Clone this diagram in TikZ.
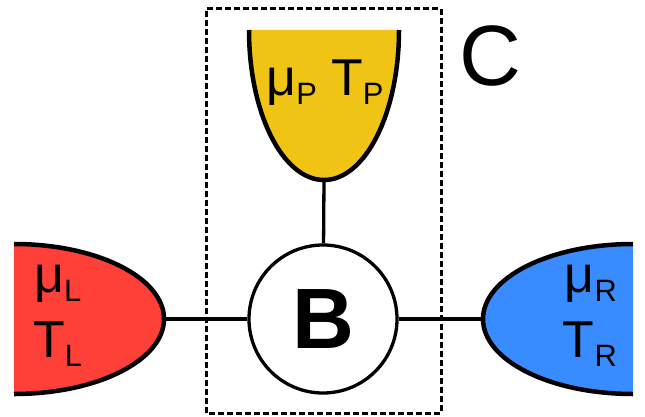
\documentclass[tikz,border=0pt]{standalone}
\usepackage{fontspec}
\setmainfont{Liberation Sans}

\definecolor{resred}{RGB}{255,64,56}
\definecolor{resyellow}{RGB}{240,196,20}
\definecolor{resblue}{RGB}{56,140,255}

\newcommand{\lowsub}[1]{\raisebox{-9bp}{\fontsize{31}{32}\selectfont #1}}

\begin{document}
\begin{tikzpicture}[
		x=1bp, y=1bp,
		conn/.style={line width=3.3bp},
		rim/.style={line width=4.5bp},
		lbl/.style={font=\fontsize{52}{60}\selectfont, inner sep=0pt},
	]
		\useasboundingbox (0,0) rectangle (645,416);
		\draw[line width=3bp, dash pattern=on 6bp off 3bp] (206,3) rectangle (441,407);
		\node (sys) [anchor=base, inner sep=0pt, font=\fontsize{86}{90}\selectfont] at (490,331) {C};
		
		% reservoirs
		\fill[resred] (14,172) arc[start angle=90, end angle=-90, x radius=150bp, y radius=75bp] -- cycle;
		\draw[rim] (14,172) arc[start angle=90, end angle=-90, x radius=150bp, y radius=75bp];
		\fill[resblue] (633,172) arc[start angle=90, end angle=270, x radius=150bp, y radius=75bp] -- cycle;
		\draw[rim] (633,172) arc[start angle=90, end angle=270, x radius=150bp, y radius=75bp];
		\fill[resyellow] (249,386) arc[start angle=180, end angle=360, x radius=75bp, y radius=150bp] -- cycle;
		\draw[rim] (249,386) arc[start angle=180, end angle=360, x radius=75bp, y radius=150bp];
		\coordinate (left) at (164,97);
		\coordinate (right) at (483,97);
		\coordinate (probe) at (324,236);
		
		\node (bath) [draw, circle, conn, fill=white, minimum size=148bp, inner sep=0pt, font=\fontsize{86}{90}\selectfont\bfseries] at (323,97) {B};
		
		\draw[conn] (left) -- (bath);
		\draw[conn] (bath) -- (right);
		\draw[conn] (probe) -- (bath);
		
		\node (muL) [lbl, anchor=base west] at (34,124) {μ\lowsub{L}};
		\node (TL) [lbl, anchor=base west] at (33,59) {T\lowsub{L}};
		\node (muR) [lbl, anchor=base east] at (617,124) {μ\lowsub{R}};
		\node (TR) [lbl, anchor=base east] at (617,59) {T\lowsub{R}};
		\node (muP) [lbl, anchor=base] at (325,321) {μ\lowsub{P} T\lowsub{P}};
	\end{tikzpicture}
\end{document}
